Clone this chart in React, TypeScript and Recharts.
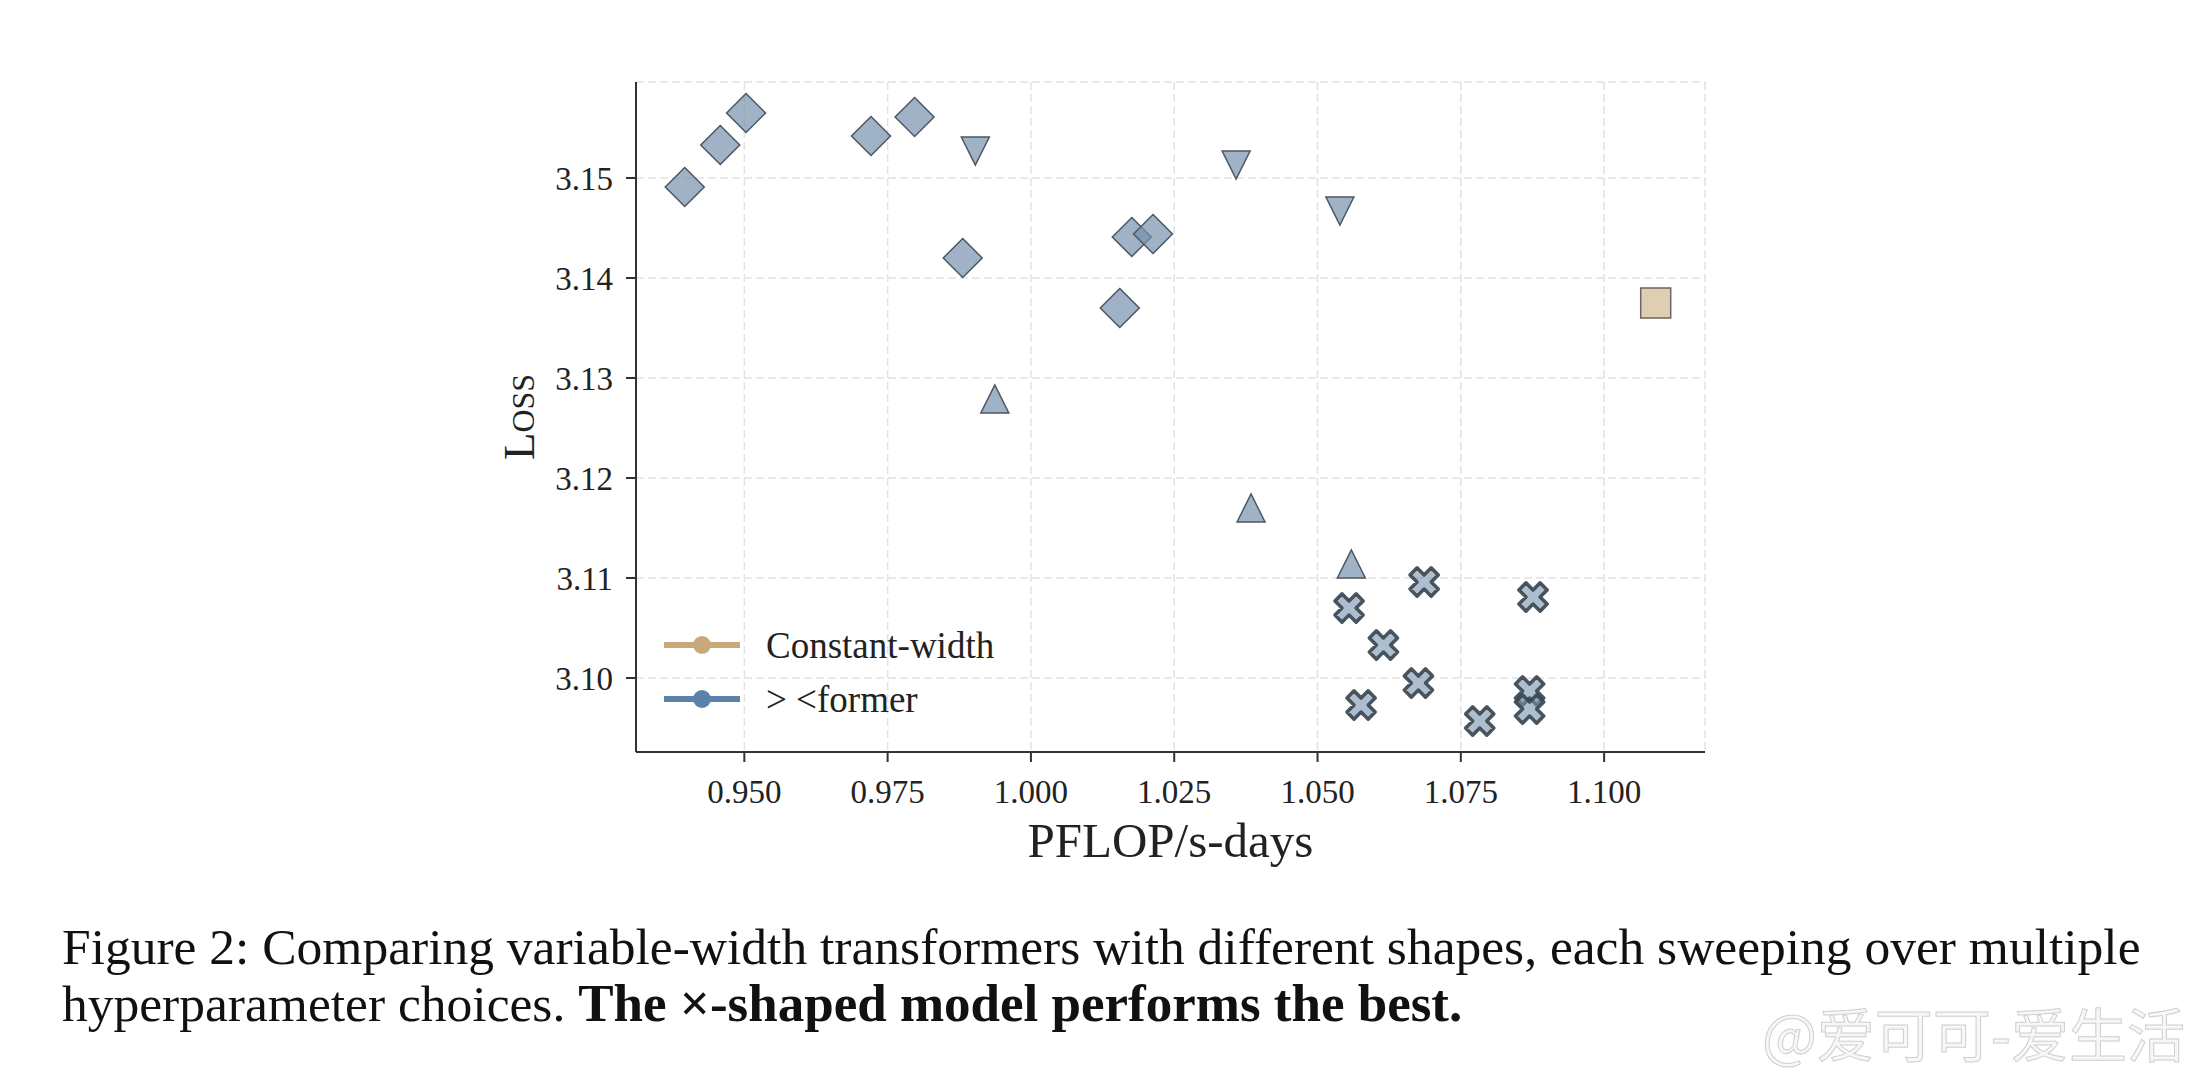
import React from 'react';
import {
  CartesianGrid,
  Label,
  Scatter,
  ScatterChart,
  XAxis,
  YAxis,
} from 'recharts';

// Values (PFLOP/s-days vs loss)
const diamondX = [0.9396, 0.9458, 0.9503, 0.9721, 0.9797, 0.9881, 1.0155, 1.0176, 1.0213];
const diamondY = [3.1491, 3.1533, 3.1565, 3.1542, 3.1561, 3.142, 3.137, 3.1441, 3.1444];

const downTriX = [0.9903, 1.0358, 1.0539];
const downTriY = [3.1527, 3.1513, 3.1467];

const upTriX = [0.9937, 1.0384, 1.0559];
const upTriY = [3.1279, 3.117, 3.1114];

const crossX = [1.0555, 1.0576, 1.0615, 1.0676, 1.0686, 1.0783, 1.087, 1.0876, 1.087];
const crossY = [3.107, 3.0973, 3.1033, 3.0995, 3.1096, 3.0957, 3.0987, 3.1081, 3.0969];

const squareX = [1.109];
const squareY = [3.1375];

const xTicks = [0.95, 0.975, 1.0, 1.025, 1.05, 1.075, 1.1];
const yTicks = [3.1, 3.11, 3.12, 3.13, 3.14, 3.15];

const legendLabels = ['Constant-width', '> <former'];
const legendColors = ['#c9a87c', '#5b83a9'];

const toPoints = (xs: number[], ys: number[]) => xs.map((x, i) => ({ x, y: ys[i] }));

const serif = '"Liberation Serif", "DejaVu Serif", serif';
const blueFill = '#7692ae';
const edge = '#4c5762';

// Marker shapes (matplotlib-like)
const Diamond = ({ cx, cy }: any) => {
  const r = 19.5;
  return (
    <path
      d={`M${cx},${cy - r}L${cx + r},${cy}L${cx},${cy + r}L${cx - r},${cy}Z`}
      fill={blueFill}
      fillOpacity={0.7}
      stroke={edge}
      strokeWidth={1.5}
    />
  );
};

const TriDown = ({ cx, cy }: any) => {
  const h = 14;
  return (
    <path
      d={`M${cx - h},${cy - h}L${cx + h},${cy - h}L${cx},${cy + h}Z`}
      fill={blueFill}
      fillOpacity={0.7}
      stroke={edge}
      strokeWidth={1.5}
    />
  );
};

const TriUp = ({ cx, cy }: any) => {
  const h = 14;
  return (
    <path
      d={`M${cx - h},${cy + h}L${cx + h},${cy + h}L${cx},${cy - h}Z`}
      fill={blueFill}
      fillOpacity={0.7}
      stroke={edge}
      strokeWidth={1.5}
    />
  );
};

const Cross = ({ cx, cy }: any) => {
  const a = 15;
  const t = 5;
  const pts = [
    [t, t], [a, t], [a, -t], [t, -t], [t, -a], [-t, -a],
    [-t, -t], [-a, -t], [-a, t], [-t, t], [-t, a], [t, a],
  ];
  const d =
    pts
      .map(([px, py], i) => `${i === 0 ? 'M' : 'L'}${cx + px},${cy + py}`)
      .join('') + 'Z';
  return (
    <path
      d={d}
      transform={`rotate(45 ${cx} ${cy})`}
      fill={blueFill}
      fillOpacity={0.6}
      stroke="#39444e"
      strokeOpacity={0.9}
      strokeWidth={3.5}
      strokeLinejoin="round"
    />
  );
};

const Square = ({ cx, cy }: any) => {
  const h = 15;
  return (
    <rect
      x={cx - h}
      y={cy - h}
      width={2 * h}
      height={2 * h}
      fill="#d2bb92"
      fillOpacity={0.7}
      stroke="#6a655e"
      strokeWidth={1.5}
    />
  );
};

const LossLabel = ({ viewBox }: any) => {
  const x = viewBox.x + 519;
  const y = viewBox.y + viewBox.height / 2;
  return (
    <text
      x={x}
      y={y}
      transform={`rotate(-90 ${x} ${y})`}
      textAnchor="middle"
      dominantBaseline="central"
      fontFamily={serif}
      fontSize={45}
      fill="#222"
      style={{ fontVariant: 'small-caps' }}
    >
      Loss
    </text>
  );
};

const ChartLegend = () => (
  <div style={{ position: 'absolute', left: 664, top: 618 }}>
    {legendLabels.map((label, i) => (
      <div key={label} style={{ display: 'flex', alignItems: 'center', height: 54 }}>
        <svg width={76} height={22}>
          <line x1={0} y1={11} x2={76} y2={11} stroke={legendColors[i]} strokeWidth={6} />
          <circle cx={38} cy={11} r={9} fill={legendColors[i]} />
        </svg>
        <span style={{ marginLeft: 26, fontSize: 37, fontFamily: serif, color: '#222' }}>
          {label}
        </span>
      </div>
    ))}
  </div>
);

const App: React.FC = () => {
  const tickStyle = { fill: '#222', fontSize: 33, fontFamily: serif };

  return (
    <div
      style={{
        position: 'absolute',
        left: 0,
        top: 0,
        width: 2205,
        height: 1080,
        background: '#fff',
        overflow: 'hidden',
      }}
    >
      <ScatterChart
        width={2205}
        height={900}
        margin={{ top: 82, right: 500, bottom: 0, left: 0 }}
      >
        <CartesianGrid stroke="#e2e2e2" strokeDasharray="8 4" strokeWidth={1.5} />
        <XAxis
          type="number"
          dataKey="x"
          domain={[0.9311, 1.1176]}
          ticks={xTicks}
          tickFormatter={(v: number) => v.toFixed(3)}
          allowDataOverflow
          height={148}
          tick={tickStyle}
          tickSize={10}
          tickMargin={18}
          axisLine={{ stroke: '#333', strokeWidth: 2 }}
          tickLine={{ stroke: '#333', strokeWidth: 2 }}
        >
          <Label
            value="PFLOP/s-days"
            position="insideBottom"
            offset={43}
            style={{ fontSize: 49, fontFamily: serif, fill: '#222' }}
          />
        </XAxis>
        <YAxis
          type="number"
          dataKey="y"
          domain={[3.0926, 3.1596]}
          ticks={yTicks}
          tickFormatter={(v: number) => v.toFixed(2)}
          allowDataOverflow
          width={636}
          tick={tickStyle}
          tickSize={10}
          tickMargin={13}
          axisLine={{ stroke: '#333', strokeWidth: 2 }}
          tickLine={{ stroke: '#333', strokeWidth: 2 }}
          label={<LossLabel />}
        />
        <Scatter name="diamond" data={toPoints(diamondX, diamondY)} shape={Diamond} isAnimationActive={false} />
        <Scatter name="triangle down" data={toPoints(downTriX, downTriY)} shape={TriDown} isAnimationActive={false} />
        <Scatter name="triangle up" data={toPoints(upTriX, upTriY)} shape={TriUp} isAnimationActive={false} />
        <Scatter name="x-shaped" data={toPoints(crossX, crossY)} shape={Cross} isAnimationActive={false} />
        <Scatter name="Constant-width" data={toPoints(squareX, squareY)} shape={Square} isAnimationActive={false} />
      </ScatterChart>

      <ChartLegend />

      {/* Caption */}
      <div
        style={{
          position: 'absolute',
          left: 62,
          top: 919,
          fontFamily: serif,
          fontSize: 51.5,
          lineHeight: '56px',
          color: '#111',
          whiteSpace: 'nowrap',
        }}
      >
        <div>
          Figure 2: Comparing variable-width transformers with different shapes, each sweeping over
          multiple
        </div>
        <div>
          hyperparameter choices. <b style={{ fontSize: 53 }}>The ×-shaped model performs the best.</b>
        </div>
      </div>

      {/* Watermark */}
      <div
        style={{
          position: 'absolute',
          left: 1762,
          top: 990,
          fontFamily: '"Noto Sans CJK SC", sans-serif',
          fontSize: 58,
          color: '#f7f7f7',
          WebkitTextStroke: '1px #cfcfcf',
          whiteSpace: 'nowrap',
        }}
      >
        @爱可可-爱生活
      </div>
    </div>
  );
};

export default App;
